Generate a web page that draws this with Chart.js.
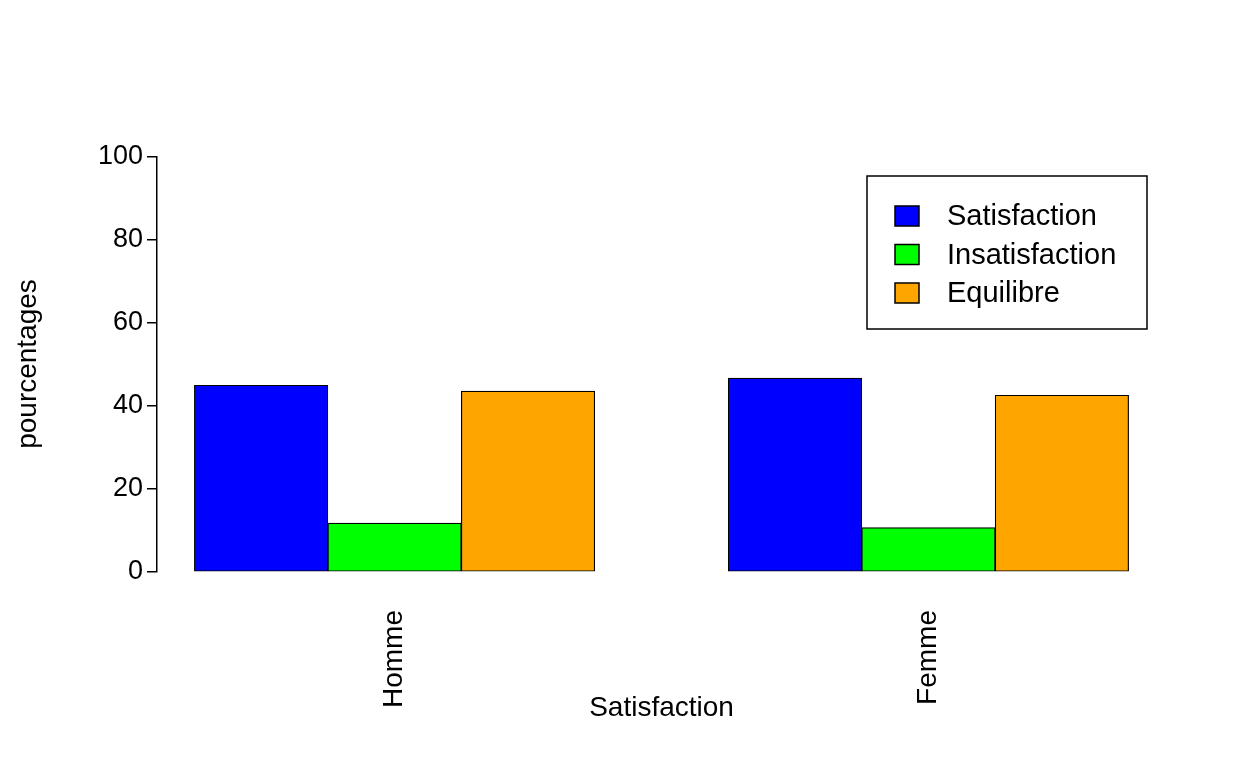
<!DOCTYPE html>
<html><head><meta charset="utf-8">
<script src="https://cdn.jsdelivr.net/npm/chart.js@4/dist/chart.umd.min.js"></script>
<style>body{margin:0;background:#fff}</style></head>
<body><canvas id="c" width="1248" height="768"></canvas>
<script>
const categories = ["Homme", "Femme"];
const seriesNames = ["Satisfaction", "Insatisfaction", "Equilibre"];
const seriesColors = ["#0000FF", "#00FF00", "#FFA500"];
const satisfaction = [45.0, 46.7];
const insatisfaction = [11.8, 10.7];
const equilibre = [43.6, 42.6];
const yTicks = [0, 20, 40, 60, 80, 100];
const values = [satisfaction, insatisfaction, equilibre];
const FONT = "Arial, 'Liberation Sans', sans-serif";

const datasets = values.map((vals, i) => ({
  label: seriesNames[i],
  data: vals.map((v, g) => ({ x: g * 4 + i + 1.5, y: v })),
  backgroundColor: seriesColors[i],
  borderColor: "#000",
  borderWidth: 1.2,
  borderSkipped: false,
  grouped: false,
  categoryPercentage: 1,
  barPercentage: 1
}));

const extras = {
  id: "extras",
  afterDraw(chart) {
    const ctx = chart.ctx, a = chart.chartArea;
    ctx.save();
    ctx.fillStyle = "#000";
    ctx.font = "28px " + FONT;
    ctx.textAlign = "center"; ctx.textBaseline = "middle";
    ctx.fillText("Satisfaction", (a.left + a.right) / 2, 708);
    ctx.translate(28, 364); ctx.rotate(-Math.PI / 2);
    ctx.fillText("pourcentages", 0, 0);
    ctx.restore();
    ctx.save();
    ctx.strokeStyle = "#000"; ctx.lineWidth = 1.5;
    ctx.strokeRect(867, 176, 280, 153);
    ctx.font = "29px " + FONT; ctx.textBaseline = "middle"; ctx.textAlign = "left";
    seriesNames.forEach((n, i) => {
      const y = 216 + i * 38.5;
      ctx.fillStyle = seriesColors[i];
      ctx.fillRect(895, y - 10, 24, 20);
      ctx.strokeRect(895, y - 10, 24, 20);
      ctx.fillStyle = "#000";
      ctx.fillText(n, 947, y + 1);
    });
    ctx.restore();
  }
};

new Chart(document.getElementById("c"), {
  type: "bar",
  data: { datasets },
  options: {
    responsive: false, animation: false,
    layout: { padding: { top: 157, right: 82, left: 0, bottom: 0 } },
    plugins: { legend: { display: false }, tooltip: { enabled: false } },
    scales: {
      x: {
        type: "linear", min: 0.72, max: 8.28, offset: false,
        afterFit(s) { s.height = 196; },
        afterBuildTicks(s) { s.ticks = categories.map((c, g) => ({ value: g * 4 + 2.5 })); },
        ticks: {
          autoSkip: false, minRotation: 90, maxRotation: 90, padding: 30,
          color: "#000", font: { size: 28, family: FONT },
          callback: (v) => categories[Math.round((v - 2.5) / 4)]
        },
        grid: { display: false }, border: { display: false }
      },
      y: {
        min: 0, max: 100,
        afterFit(s) { s.width = 157; },
        afterBuildTicks(s) { s.ticks = yTicks.map(v => ({ value: v })); },
        ticks: { color: "#000", font: { size: 27, family: FONT }, padding: 4 },
        grid: { drawOnChartArea: false, tickLength: 10, color: "#000", lineWidth: 1.5 },
        border: { display: true, color: "#000", width: 1.5 }
      }
    }
  },
  plugins: [extras]
});
</script></body></html>
